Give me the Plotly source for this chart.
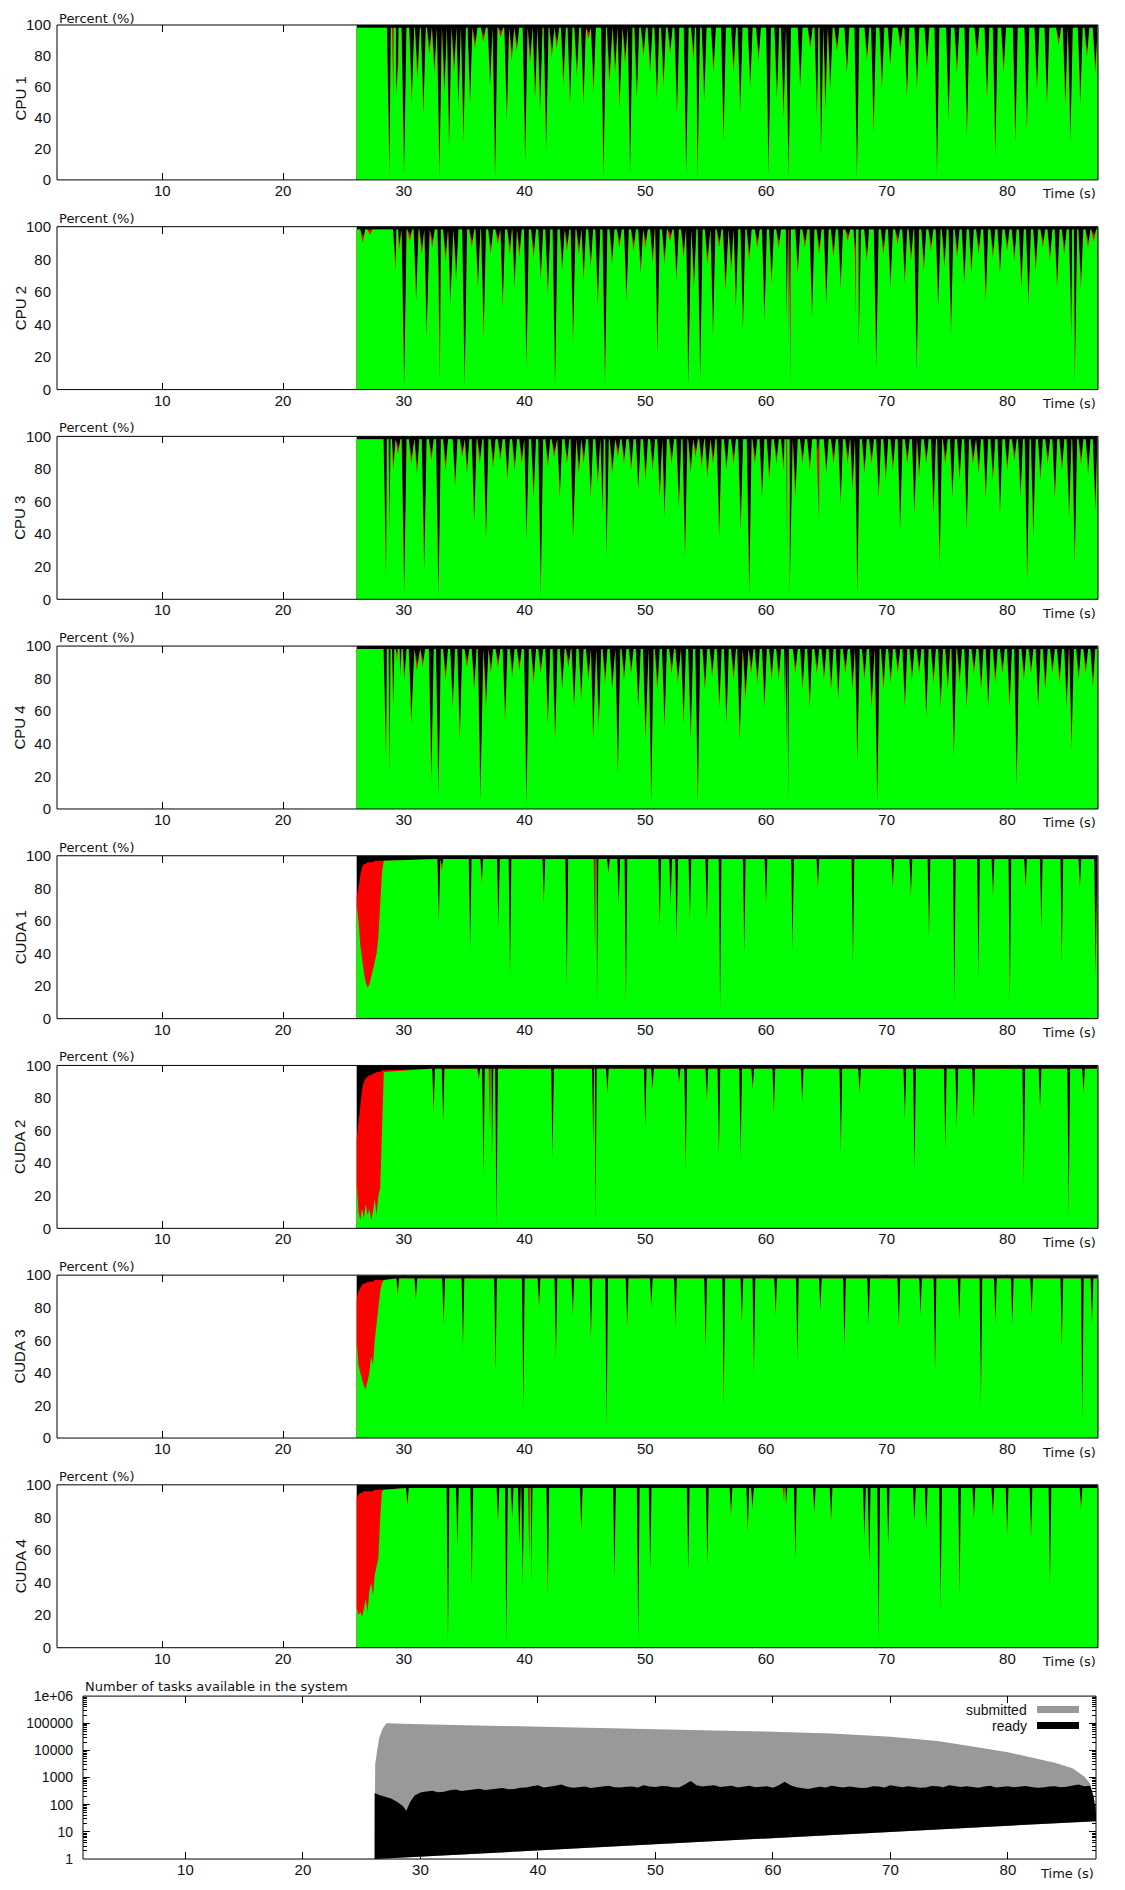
import plotly.graph_objects as go

W, H = 1125, 1890
# the page is photographed with an 8-px top offset and a slight vertical squeeze;
# layout positions below are given in photographed pixels and converted by py()
PIC_OFF, PIC_SCALE = 8.0, 0.99153
T_START, T_END = 26.1, 87.45
X_RANGE = [1.28, 87.5]
X_TICKS = [10, 20, 30, 40, 50, 60, 70, 80]
Y_TICKS = [0, 20, 40, 60, 80, 100]

# ---------------- per-worker activity: dips of the "working" (green) share ----------------
cpu1_t = [28.81, 29.14, 29.36, 29.55, 30.02, 30.66, 31.13, 31.62, 32.12, 32.53, 32.95, 33.36, 33.75, 34.16,
          34.52, 34.94, 35.49, 35.90, 36.59, 37.15, 37.56, 38.03, 38.53, 38.94, 39.36, 40.05, 40.46, 40.87,
          41.29, 41.79, 42.26, 42.67, 43.22, 43.77, 44.33, 44.88, 45.29, 45.71, 46.54, 47.03, 47.50, 47.86,
          48.33, 48.74, 49.30, 49.85, 50.40, 50.96, 51.51, 52.06, 52.62, 53.39, 54.00, 54.33, 54.88, 55.65,
          56.48, 57.31, 57.86, 58.69, 59.38, 60.21, 60.90, 61.45, 61.87, 62.83, 63.66, 64.22, 64.55, 64.91,
          65.32, 65.87, 66.70, 67.53, 68.36, 68.91, 69.60, 70.29, 71.12, 71.67, 72.50, 73.33, 74.16, 75.12,
          75.81, 76.64, 77.47, 78.30, 78.99, 79.68, 80.65, 81.61, 82.44, 83.27, 84.24, 84.79, 85.21, 86.03,
          86.58, 87.27]
cpu1_v = [3, 52, 55, 75, 3, 50, 65, 42, 81, 69, 2, 56, 20, 69, 46, 24, 48, 85, 89, 60, 1, 92, 38, 77, 83,
          11, 75, 52, 44, 19, 79, 85, 61, 48, 67, 48, 91, 56, 1, 62, 69, 46, 75, 3, 52, 79, 69, 52, 60, 81,
          42, 3, 77, 1, 51, 69, 24, 69, 43, 59, 77, 3, 52, 40, 1, 59, 85, 40, 16, 45, 58, 83, 69, 1, 77,
          30, 59, 73, 85, 53, 59, 73, 3, 38, 69, 28, 79, 52, 15, 69, 24, 32, 58, 48, 87, 48, 24, 48, 79, 69]

cpu2_t = [26.6, 27.2, 29.32, 29.60, 30.03, 30.50, 31.02, 31.49, 31.88, 32.36, 32.87, 32.99, 33.46, 33.85,
          34.33, 35.04, 35.63, 36.14, 36.61, 37.20, 37.79, 38.19, 38.78, 39.17, 39.57, 40.16, 40.75, 41.34,
          41.93, 42.53, 43.12, 43.51, 44.02, 44.50, 44.89, 45.48, 46.07, 46.66, 47.25, 47.85, 48.44, 49.03,
          49.62, 50.01, 50.61, 51.00, 51.59, 52.06, 52.58, 53.17, 53.56, 54.03, 54.55, 55.14, 55.61, 56.12,
          56.64, 57.11, 57.50, 58.09, 58.61, 59.28, 59.87, 60.46, 61.05, 61.70, 61.85, 62.04, 62.63, 63.22,
          63.81, 64.40, 64.99, 65.58, 66.18, 66.77, 67.36, 67.45, 67.67, 68.34, 69.13, 69.72, 70.31, 70.90,
          71.49, 72.01, 72.48, 73.07, 73.66, 74.26, 74.77, 75.32, 75.83, 76.42, 77.01, 77.61, 78.20, 78.79,
          79.38, 79.97, 80.56, 81.15, 81.74, 82.34, 82.93, 83.52, 84.11, 84.70, 85.29, 85.57, 86.08, 86.67,
          87.14]
cpu2_v = [90, 95, 73, 85, 1, 91, 54, 83, 32, 87, 68, 5, 79, 52, 67, 1, 87, 62, 32, 83, 89, 50, 83, 62, 81,
          13, 81, 67, 58, 1, 73, 85, 29, 83, 67, 75, 52, 3, 77, 87, 54, 85, 71, 87, 77, 21, 77, 91, 67, 81,
          3, 62, 5, 77, 32, 87, 60, 73, 50, 36, 79, 87, 42, 65, 87, 40, 25, 3, 71, 87, 44, 83, 52, 81, 62,
          91, 83, 45, 25, 79, 13, 83, 62, 89, 65, 79, 11, 73, 85, 50, 75, 34, 81, 65, 71, 83, 54, 81, 71, 85,
          79, 62, 52, 73, 87, 79, 62, 83, 32, 3, 62, 87, 91]

cpu3_t = [28.53, 28.81, 29.12, 29.52, 30.03, 30.62, 31.09, 31.69, 32.28, 32.87, 33.46, 34.25, 34.84, 35.23,
          35.83, 36.30, 36.81, 37.40, 37.99, 38.58, 39.18, 39.77, 40.16, 40.75, 41.34, 41.93, 42.45, 42.92,
          43.51, 44.02, 44.50, 44.89, 45.48, 46.07, 46.47, 46.78, 47.26, 47.73, 48.24, 48.83, 49.42, 50.02,
          50.61, 51.20, 51.59, 52.18, 52.78, 53.29, 53.76, 54.16, 54.67, 55.14, 55.61, 56.12, 56.72, 57.31,
          57.90, 58.61, 59.08, 59.67, 60.27, 60.86, 61.45, 61.75, 61.96, 62.43, 63.02, 63.62, 64.21, 64.40,
          64.99, 65.59, 66.18, 66.77, 67.16, 67.56, 68.15, 68.74, 69.33, 69.92, 70.51, 71.11, 71.70, 72.29,
          72.68, 73.27, 73.87, 74.38, 74.85, 75.44, 76.03, 76.62, 77.14, 77.61, 78.20, 78.79, 79.38, 79.98,
          80.57, 81.08, 81.63, 82.14, 82.73, 83.33, 83.92, 84.51, 85.10, 85.57, 86.09, 86.68, 87.27]
cpu3_v = [13, 42, 79, 89, 3, 83, 77, 17, 85, 1, 79, 69, 87, 77, 46, 83, 36, 81, 85, 73, 79, 83, 36, 62, 1,
          81, 87, 62, 83, 36, 77, 83, 62, 71, 52, 25, 77, 87, 83, 79, 67, 73, 79, 62, 50, 83, 56, 25, 77, 87,
          81, 75, 83, 38, 79, 83, 42, 3, 83, 62, 73, 83, 79, 30, 3, 62, 83, 79, 87, 48, 77, 83, 58, 83, 67,
          3, 77, 83, 62, 73, 79, 42, 83, 52, 75, 83, 52, 21, 83, 62, 73, 42, 83, 77, 62, 73, 52, 79, 85, 62,
          11, 38, 73, 83, 62, 79, 50, 21, 83, 77, 54]

cpu4_t = [28.53, 28.81, 29.12, 29.44, 29.71, 30.03, 30.62, 31.09, 31.57, 32.28, 32.87, 33.46, 34.05, 34.64,
          35.23, 35.83, 36.34, 36.81, 37.20, 37.80, 38.39, 38.98, 39.57, 40.16, 40.75, 41.34, 41.93, 42.53,
          43.12, 43.63, 44.10, 44.69, 45.29, 45.68, 46.15, 46.67, 47.26, 47.73, 48.24, 48.83, 49.42, 50.02,
          50.49, 51.00, 51.59, 52.18, 52.70, 53.17, 53.76, 54.35, 54.94, 55.54, 56.13, 56.72, 57.31, 57.82,
          58.29, 58.77, 59.28, 59.87, 60.46, 61.05, 61.57, 61.70, 61.84, 62.43, 63.03, 63.62, 64.21, 64.80,
          65.39, 65.98, 66.57, 67.16, 67.56, 68.15, 68.74, 69.21, 69.73, 70.32, 70.91, 71.50, 72.09, 72.68,
          73.27, 73.87, 74.46, 75.05, 75.56, 76.03, 76.62, 77.22, 77.81, 78.40, 78.99, 79.58, 80.17, 80.76,
          81.36, 81.95, 82.54, 83.13, 83.72, 84.31, 84.90, 85.30, 85.89, 86.48, 87.07]
cpu4_v = [32, 21, 62, 91, 81, 79, 52, 85, 87, 17, 7, 79, 62, 42, 87, 73, 5, 62, 83, 87, 54, 81, 85, 1, 77,
          83, 52, 42, 73, 87, 62, 67, 79, 42, 50, 77, 73, 21, 79, 83, 62, 42, 3, 73, 50, 83, 77, 52, 42, 3,
          73, 81, 62, 52, 79, 42, 67, 83, 77, 62, 79, 79, 62, 35, 3, 83, 73, 62, 83, 79, 73, 67, 83, 73, 29,
          79, 62, 3, 73, 77, 83, 62, 79, 83, 56, 77, 62, 73, 32, 77, 62, 83, 73, 62, 77, 83, 62, 13, 79, 83,
          62, 73, 83, 77, 62, 36, 79, 83, 75]

cuda1_t = [32.9, 33.15, 35.5, 36.46, 37.84, 38.8, 41.6, 43.5, 45.85, 46.0, 46.95, 47.8, 48.4, 51.2, 52.1,
           52.6, 53.7, 55.1, 56.2, 58.2, 60.0, 62.2, 64.3, 67.2, 70.5, 72.0, 73.5, 75.6, 77.6, 78.8, 80.2,
           81.5, 82.8, 84.5, 86.0, 87.3]
cuda1_v = [58, 91, 42, 83, 56, 26, 71, 19, 40, 7, 89, 69, 9, 56, 69, 48, 61, 60, 5, 40, 70, 41, 80, 33, 80,
           75, 50, 10, 25, 75, 10, 80, 55, 33, 80, 26]

cuda2_t = [32.47, 33.26, 36.21, 36.6, 37.15, 37.3, 37.68, 42.32, 45.7, 45.87, 46.86, 50.0, 50.6, 52.8, 53.35,
           55.1, 56.1, 57.9, 58.9, 60.65, 63.0, 66.2, 67.75, 71.5, 72.3, 74.85, 75.8, 77.2, 81.35, 82.7, 85.07,
           86.3]
cuda2_v = [71, 65, 91, 32, 60, 40, 1, 42, 50, 3, 83, 62, 85, 89, 36, 79, 44, 42, 85, 71, 77, 46, 83, 67, 34,
           48, 62, 67, 27, 73, 7, 83]

cuda3_t = [29.5, 31.0, 33.3, 34.9, 37.6, 39.9, 41.2, 42.6, 44.0, 45.5, 46.8, 48.5, 50.5, 52.5, 55.0, 56.5,
           58.0, 59.0, 60.8, 62.6, 64.5, 66.5, 68.5, 71.0, 72.8, 74.0, 76.0, 77.8, 79.0, 80.4, 82.0, 84.5, 86.2,
           87.0]
cuda3_v = [88, 85, 69, 55, 40, 17, 80, 48, 75, 60, 6, 68, 80, 68, 55, 20, 70, 40, 75, 47, 78, 55, 69, 68, 75,
           40, 72, 20, 70, 69, 75, 55, 10, 70]

cuda4_t = [30.3, 33.66, 34.44, 35.63, 37.8, 38.5, 38.98, 39.57, 39.85, 40.4, 40.55, 41.93, 44.7, 47.45, 49.42,
           50.41, 53.56, 55.14, 57.1, 58.49, 58.88, 61.5, 61.65, 62.43, 64.0, 65.39, 68.15, 68.55, 69.33, 70.12,
           72.29, 73.27, 74.46, 76.03, 77.22, 78.79, 79.97, 81.95, 83.52, 86.09]
cuda4_v = [87, 2, 62, 38, 77, 2, 79, 62, 38, 55, 40, 32, 71, 42, 3, 46, 46, 50, 81, 71, 85, 90, 87, 54, 83,
           77, 67, 50, 3, 62, 77, 73, 23, 32, 79, 81, 69, 67, 38, 85]

# start-up phase of the CUDA workers (green = working, red top = working + overhead)
early_t = [26.1, 26.25, 26.4, 26.55, 26.7, 26.85, 27.0, 27.15, 27.3, 27.45, 27.6, 27.75, 27.9, 28.05, 28.2, 28.35]
cuda1_eg = [70, 60, 45, 35, 28, 22, 19, 21, 25, 30, 35, 40, 50, 75, 90, 97]
cuda1_er = [75, 80, 88, 93, 95, 95, 96, 96, 96, 96, 97, 97, 97, 97, 97, 97]
cuda2_eg = [30, 10, 5, 12, 6, 15, 8, 12, 5, 10, 18, 8, 20, 25, 60, 96]
cuda2_er = [55, 65, 75, 85, 90, 92, 93, 94, 94, 95, 95, 96, 96, 96, 97, 97]
cuda3_eg = [60, 45, 40, 35, 32, 30, 35, 40, 50, 45, 60, 70, 80, 90, 95, 97]
cuda3_er = [85, 90, 92, 94, 95, 95, 96, 96, 96, 96, 97, 97, 97, 97, 97, 97]
cuda4_eg = [25, 20, 22, 19, 24, 30, 22, 35, 40, 32, 45, 50, 55, 80, 96, 97]
cuda4_er = [92, 94, 95, 95, 96, 96, 96, 96, 96, 96, 97, 97, 97, 97, 97, 97]

# ---------------- number of tasks ----------------
sub_t = [26.1, 26.15, 26.3, 26.5, 26.8, 27.1, 30, 35, 40, 45, 50, 55, 60, 65, 70, 74, 77, 80, 82, 84, 85.5,
         86.5, 87, 87.3, 87.6]
sub_v = [1, 3000, 9000, 30000, 65000, 100000, 92000, 82000, 73000, 64000, 58000, 54000, 49000, 42000, 32000,
         22000, 14000, 8500, 5500, 3500, 2200, 1100, 600, 200, 25]

rdy_t = [26.1, 26.1, 26.5, 27.0, 27.5, 28.0, 28.5, 28.8, 29.1,
         29.5, 30.0, 30.5, 31.0, 31.5, 32.0, 32.5, 33.0, 33.5, 34.0, 34.5, 35.0, 35.5, 36.0, 36.5, 37.0,
         37.5, 38.0, 38.5, 39.0, 39.5, 40.0, 40.5, 41.0, 41.5, 42.0, 42.5, 43.0, 43.5, 44.0, 44.5, 45.0,
         45.5, 46.0, 46.5, 47.0, 47.5, 48.0, 48.5, 49.0, 49.5, 50.0, 50.5, 51.0, 51.5, 52.0, 52.5, 53.0,
         53.5, 54.0, 54.5, 55.0, 55.5, 56.0, 56.5, 57.0, 57.5, 58.0, 58.5, 59.0, 59.5, 60.0, 60.5, 61.0,
         61.5, 62.0, 62.5, 63.0, 63.5, 64.0, 64.5, 65.0, 65.5, 66.0, 66.5, 67.0, 67.5, 68.0, 68.5, 69.0,
         69.5, 70.0, 70.5, 71.0, 71.5, 72.0, 72.5, 73.0, 73.5, 74.0, 74.5, 75.0, 75.5, 76.0, 76.5, 77.0,
         77.5, 78.0, 78.5, 79.0, 79.5, 80.0, 80.5, 81.0, 81.5, 82.0, 82.5, 83.0, 83.5, 84.0, 84.5, 85.0,
         85.5, 86.0, 86.5, 87.0, 87.3, 87.6]
rdy_v = [1, 270, 230, 200, 170, 130, 90, 60, 120,
         220, 280, 310, 330, 290, 300, 340, 360, 320, 340, 380, 390, 350, 370, 400, 410,
         370, 380, 420, 430, 480, 520, 430, 450, 500, 560, 460, 420, 450, 470, 410, 440,
         480, 500, 440, 430, 460, 470, 430, 520, 470, 450, 490, 480, 440, 430, 560, 750,
         520, 470, 500, 520, 450, 460, 500, 430, 470, 500, 440, 450, 480, 420, 520, 700,
         520, 440, 400, 380, 420, 460, 430, 500, 460, 430, 470, 450, 410, 420, 480, 470,
         430, 520, 470, 440, 480, 460, 420, 430, 490, 480, 440, 520, 470, 450, 480, 440,
         420, 470, 500, 430, 460, 480, 440, 460, 490, 450, 420, 430, 470, 480, 440, 460,
         500, 550, 480, 500, 200, 25]

GREEN, RED, BLACK, GRAY = "#00ff00", "#ff0000", "#000000", "#999999"
SANS = "Liberation Sans, Arial, sans-serif"
DEJAVU = "DejaVu Sans, sans-serif"


def build(dt, dv, base, w, roff, shift, et=None, eg=None, er=None):
    """Green outline and green+overhead (red) outline of one worker."""
    g_pts, r_pts = [], []
    if et:
        g_pts += list(zip(et, eg))
        r_pts += list(zip(et, er))
    else:
        g_pts.append((T_START, base))
        r_pts.append((T_START, base))
    for t, v in zip(dt, dv):
        g_pts += [(t - w, base), (t, v), (t + w, base)]
        r_pts += [(t - w, base), (t + shift, min(base, v + roff)), (t + w, base)]
    g_pts.append((T_END, base))
    r_pts.append((T_END, base))
    g_pts.sort(key=lambda p: p[0])
    r_pts.sort(key=lambda p: p[0])
    return ([p[0] for p in g_pts], [p[1] for p in g_pts],
            [p[0] for p in r_pts], [p[1] for p in r_pts])


panels = [
    ("CPU 1", cpu1_t, cpu1_v, None, None),
    ("CPU 2", cpu2_t, cpu2_v, None, None),
    ("CPU 3", cpu3_t, cpu3_v, None, None),
    ("CPU 4", cpu4_t, cpu4_v, None, None),
    ("CUDA 1", cuda1_t, cuda1_v, cuda1_eg, cuda1_er),
    ("CUDA 2", cuda2_t, cuda2_v, cuda2_eg, cuda2_er),
    ("CUDA 3", cuda3_t, cuda3_v, cuda3_eg, cuda3_er),
    ("CUDA 4", cuda4_t, cuda4_v, cuda4_eg, cuda4_er),
]

fig = go.Figure()
layout = {}
annotations = []
shapes = []


def py(y):
    """photographed pixel row -> paper fraction"""
    return 1 - ((y - PIC_OFF) / PIC_SCALE) / H


tick_font = dict(family=SANS, size=15, color="#111")
label_font = dict(family=DEJAVU, size=13, color="#111")

for k, (name, dt, dv, eg, er) in enumerate(panels):
    i = k + 1
    sfx = "" if i == 1 else str(i)
    ref_top = 16 + 209.8 * k
    bot = ref_top + 163
    top = 24 if k == 0 else ref_top
    is_cuda = eg is not None
    base = 98.0 if is_cuda else 98.2
    w = 0.12 if is_cuda else 0.21
    gx, gy, rx, ry = build(dt, dv, base, w, 3 if is_cuda else 4, 0.04 if is_cuda else 0.06,
                           early_t if is_cuda else None, eg, er)
    common = dict(xaxis="x" + sfx, yaxis="y" + sfx, mode="lines", line=dict(width=0),
                  fill="tozeroy", hoverinfo="skip", showlegend=False)
    fig.add_trace(go.Scatter(x=[T_START, T_END], y=[100, 100], fillcolor=BLACK, **common))
    fig.add_trace(go.Scatter(x=rx, y=ry, fillcolor=RED, **common))
    fig.add_trace(go.Scatter(x=gx, y=gy, fillcolor=GREEN, **common))

    layout["xaxis" + sfx] = dict(domain=[57 / W, 1098 / W], anchor="y" + sfx, range=X_RANGE,
                                 tickvals=X_TICKS, ticks="inside", ticklen=7, tickcolor="#000",
                                 mirror="ticks", showline=False, showgrid=False, zeroline=False,
                                 tickfont=tick_font, layer="below traces")
    layout["yaxis" + sfx] = dict(domain=[py(bot), py(top)], anchor="x" + sfx, range=[0, 100],
                                 tickvals=Y_TICKS, ticks="", showline=False, showgrid=False,
                                 zeroline=False, tickfont=tick_font, layer="below traces",
                                 ticklabelstandoff=5)
    shapes.append(dict(type="rect", xref="x%s domain" % sfx, yref="y%s domain" % sfx,
                       x0=0, x1=1, y0=0, y1=1, line=dict(color="#000", width=1), layer="above"))
    if k == 0:
        annotations.append(dict(text="Percent (%)", xref="paper", yref="paper", x=57 / W, y=py(PIC_OFF + 0.5),
                                xanchor="left", yanchor="top", showarrow=False, font=label_font))
    else:
        annotations.append(dict(text="Percent (%)", xref="paper", yref="paper", x=57 / W, y=py(top - 8.5),
                                xanchor="left", yanchor="middle", showarrow=False, font=label_font))
    annotations.append(dict(text=name, xref="paper", yref="paper", x=20 / W, y=py((ref_top + bot) / 2),
                            xanchor="center", yanchor="middle", textangle=-90, showarrow=False,
                            font=dict(family=SANS, size=15, color="#111")))
    annotations.append(dict(text="Time (s)", xref="paper", yref="paper", x=1098 / W, y=py(bot + 14),
                            xanchor="right", yanchor="middle", showarrow=False, font=label_font))

# ---------------- bottom panel ----------------
top9, bot9 = 1696, 1859
fig.add_trace(go.Scatter(x=sub_t, y=sub_v, xaxis="x9", yaxis="y9", mode="lines", line=dict(width=0),
                         fill="toself", fillcolor=GRAY, hoverinfo="skip", showlegend=False))
fig.add_trace(go.Scatter(x=rdy_t, y=rdy_v, xaxis="x9", yaxis="y9", mode="lines", line=dict(width=0),
                         fill="toself", fillcolor=BLACK, hoverinfo="skip", showlegend=False))
layout["xaxis9"] = dict(domain=[83 / W, 1096 / W], anchor="y9", range=X_RANGE, tickvals=X_TICKS,
                        ticks="inside", ticklen=7, tickcolor="#000", mirror="ticks", showline=False,
                        showgrid=False, zeroline=False, tickfont=tick_font, layer="below traces")
major = [1, 10, 100, 1000, 10000, 100000, 1000000]
minor = [m * d for d in major[:-1] for m in range(2, 10)]
layout["yaxis9"] = dict(domain=[py(bot9), py(top9)], anchor="x9", type="log", range=[0, 6],
                        tickvals=major, ticktext=["1", "10", "100", "1000", "10000", "100000", "1e+06"],
                        ticks="inside", ticklen=7, tickcolor="#000", mirror="ticks", showline=False,
                        showgrid=False, zeroline=False, tickfont=dict(family=SANS, size=14, color="#111"),
                        layer="below traces", ticklabelstandoff=9,
                        minor=dict(tickvals=minor, ticks="inside", ticklen=4, tickcolor="#000",
                                   showgrid=False))
shapes.append(dict(type="rect", xref="x9 domain", yref="y9 domain", x0=0, x1=1, y0=0, y1=1,
                   line=dict(color="#000", width=1), layer="above"))
annotations.append(dict(text="Number of tasks available in the system", xref="paper", yref="paper",
                        x=83 / W, y=py(top9 - 10), xanchor="left", yanchor="middle", showarrow=False,
                        font=label_font))
annotations.append(dict(text="Time (s)", xref="paper", yref="paper", x=1096 / W, y=py(bot9 + 14),
                        xanchor="right", yanchor="middle", showarrow=False, font=label_font))
# legend (text left of swatch, as in the original)
for label, color, yc in [("submitted", GRAY, 1709.5), ("ready", BLACK, 1725.5)]:
    annotations.append(dict(text=label, xref="paper", yref="paper", x=1029 / W, y=py(yc),
                            xanchor="right", yanchor="middle", showarrow=False,
                            font=dict(family=SANS, size=14, color="#111")))
    shapes.append(dict(type="rect", xref="paper", yref="paper", x0=1037 / W, x1=1079 / W,
                       y0=py(yc + 3.5), y1=py(yc - 3.5), line=dict(width=0), fillcolor=color))

fig.update_layout(width=W, height=H, margin=dict(l=0, r=0, t=0, b=0), paper_bgcolor="white",
                  plot_bgcolor="white", showlegend=False, annotations=annotations, shapes=shapes,
                  **layout)
fig.write_html("out.html")
